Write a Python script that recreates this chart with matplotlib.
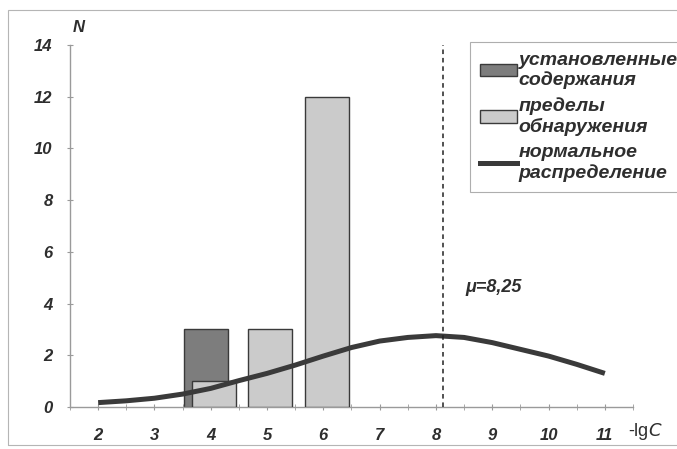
import matplotlib.pyplot as plt
from matplotlib.patches import Rectangle, Patch
from matplotlib.lines import Line2D
import numpy as np

# Категории по оси X (-lgC)
categorias = [2, 3, 4, 5, 6, 7, 8, 9, 10, 11]
# Количество: установленные содержания
establecidos = [0, 0, 3, 0, 0, 0, 0, 0, 0, 0]
# Количество: пределы обнаружения
limites = [0, 0, 1, 3, 12, 0, 0, 0, 0, 0]

# Кривая нормального распределения
curva_x = [2.0, 2.5, 3.0, 3.5, 4.0, 4.5, 5.0, 5.5, 6.0, 6.5, 7.0, 7.5, 8.0, 8.5, 9.0, 9.5, 10.0, 10.5, 11.0]
curva_y = [0.17, 0.24, 0.34, 0.50, 0.72, 1.02, 1.30, 1.62, 1.97, 2.30, 2.55, 2.69, 2.76, 2.69, 2.49, 2.23, 1.97, 1.65, 1.30]

mu_pos = 8.12
mu_texto = 'μ=8,25'

texto = '#2e2e2e'
fuente = 'Liberation Sans'

fig = plt.figure(figsize=(6.77, 4.49), dpi=100)
ax = fig.add_axes([0.1034, 0.0935, 0.8316, 0.8065])

# Рамка области диаграммы
fig.add_artist(Rectangle((0.012, 0.009), 1.0, 0.969, transform=fig.transFigure,
                         fill=False, edgecolor='#b5b5b5', linewidth=0.8))

x = np.array(categorias, dtype=float)
ancho = 0.78
bordes1 = ['#3a3a3a' if v > 0 else 'none' for v in establecidos]
bordes2 = ['#3a3a3a' if v > 0 else 'none' for v in limites]
ax.bar(x - 0.09, establecidos, width=ancho, color='#7d7d7d', edgecolor=bordes1,
       linewidth=1.0, zorder=2)
ax.bar(x + 0.06, limites, width=ancho, color='#cbcbcb', edgecolor=bordes2,
       linewidth=1.0, zorder=3)

# Кривая
ax.plot(curva_x, curva_y, color='#3a3a3a', linewidth=3.6, solid_capstyle='butt', zorder=4)

# Линия среднего
ax.vlines(mu_pos, 0, 14, colors='#222222', linestyles=(0, (3, 2.5)), linewidth=1.1, zorder=5)
ax.text(mu_pos + 0.4, 4.64, mu_texto, fontsize=13, fontstyle='italic', fontweight='bold',
        family=fuente, color=texto, va='center', ha='left')

ax.set_xlim(1.5, 11.5)
ax.set_ylim(0, 14)
ax.set_xticks(categorias)
ax.set_xticks(np.arange(1.5, 11.6, 0.5), minor=True)
ax.set_yticks(range(0, 15, 2))

for s in ['top', 'right']:
    ax.spines[s].set_visible(False)
for s in ['left', 'bottom']:
    ax.spines[s].set_color('#9a9a9a')
    ax.spines[s].set_linewidth(1.0)

ax.tick_params(axis='y', direction='inout', length=5, color='#9a9a9a', pad=10,
               labelsize=12, labelcolor=texto)
ax.tick_params(axis='x', which='both', direction='inout', length=4, color='#9a9a9a', pad=13,
               labelsize=12, labelcolor=texto)
for lab in ax.get_xticklabels() + ax.get_yticklabels():
    lab.set_fontstyle('italic')
    lab.set_fontweight('bold')
    lab.set_family(fuente)

# Подписи осей
fig.text(79 / 677, 1 - 27 / 449, 'N', fontsize=12, fontstyle='italic', fontweight='bold',
         family=fuente, color=texto, ha='center', va='center')
fig.text(628 / 677, 1 - 432 / 449, '-lg$\\mathit{C}$', fontsize=13, family=fuente,
         color=texto, ha='left', va='center')

# Легенда
manejadores = [
    Patch(facecolor='#7d7d7d', edgecolor='#3a3a3a', linewidth=1.0),
    Patch(facecolor='#cbcbcb', edgecolor='#3a3a3a', linewidth=1.0),
    Line2D([0], [0], color='#3a3a3a', linewidth=3.6),
]
etiquetas = ['установленные\nсодержания', 'пределы\nобнаружения', 'нормальное\nраспределение']
leg = fig.legend(manejadores, etiquetas, loc='upper left', bbox_to_anchor=(0.694, 0.906),
                 frameon=True, fancybox=False, edgecolor='#9a9a9a', handlelength=1.9,
                 handleheight=0.6, handletextpad=0.1, labelspacing=0.42, borderpad=0.5,
                 borderaxespad=0,
                 prop={'family': fuente, 'style': 'italic', 'weight': 'bold', 'size': 14})
leg.get_frame().set_linewidth(0.8)
for t in leg.get_texts():
    t.set_color(texto)
    t.set_linespacing(1.2)

fig.savefig('out.png', dpi=100)
